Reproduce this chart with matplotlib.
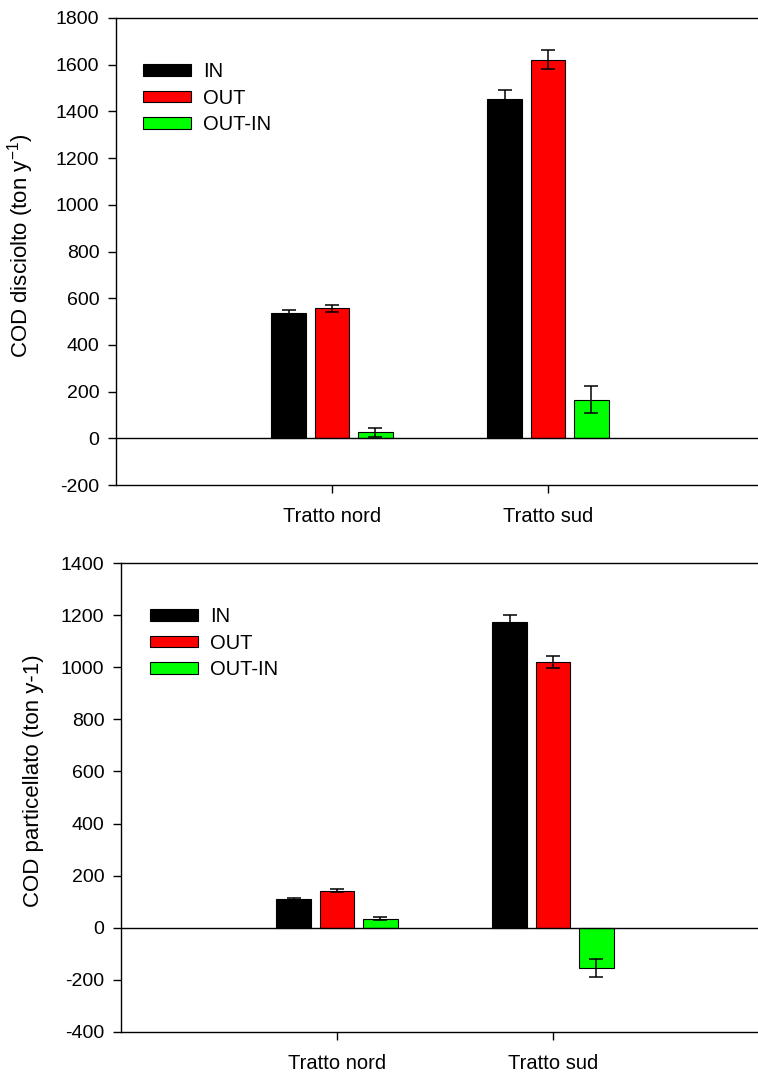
import numpy as np
import matplotlib
matplotlib.use("Agg")
import matplotlib.pyplot as plt

plt.rcParams["font.family"] = ["Liberation Sans", "DejaVu Sans"]
plt.rcParams["mathtext.fontset"] = "custom"
plt.rcParams["mathtext.rm"] = "Liberation Sans"
plt.rcParams["mathtext.default"] = "regular"
plt.rcParams["axes.unicode_minus"] = False

# load data: dissolved and particulate COD, by stretch
tratti = ["Tratto nord", "Tratto sud"]
serie = ["IN", "OUT", "OUT-IN"]
colori = ["#000000", "#ff0000", "#00ff00"]

disciolto_in = [535, 1455]
disciolto_out = [557, 1622]
disciolto_diff = [25, 166]
disciolto_in_err = [15, 37]
disciolto_out_err = [15, 41]
disciolto_diff_err = [20, 57]

particellato_in = [111, 1174]
particellato_out = [143, 1021]
particellato_diff = [34, -154]
particellato_in_err = [4, 25]
particellato_out_err = [5, 23]
particellato_diff_err = [6, 36]

W, H = 758, 1073
BAR_W = 0.162
STEP = 0.2
FS = 14.5


def bar_panel(ax, valori, errori, ylim, yticks, ylabel, label_xy, legend_pos):
    x = np.arange(1, len(tratti) + 1)
    for i, (nome, col) in enumerate(zip(serie, colori)):
        ax.bar(x + (i - 1) * STEP, valori[i], BAR_W, color=col,
               edgecolor="black", linewidth=0.8, label=nome, zorder=2)
        ax.errorbar(x + (i - 1) * STEP, valori[i], yerr=errori[i], fmt="none",
                    ecolor="black", elinewidth=1.1, capsize=5, capthick=1.1, zorder=3)
    ax.axhline(0, color="black", linewidth=1.0, zorder=4)
    ax.set_xlim(0, 3)
    ax.set_ylim(*ylim)
    ax.set_yticks(yticks)
    ax.set_xticks(x)
    ax.set_xticklabels(tratti)
    ax.set_ylabel(ylabel, fontsize=16)
    ax.yaxis.set_label_coords(*label_xy)
    ax.spines["right"].set_visible(False)
    for s in ["left", "bottom", "top"]:
        ax.spines[s].set_linewidth(1.0)
    ax.tick_params(axis="y", direction="out", length=6, width=1, labelsize=14, pad=6)
    ax.tick_params(axis="x", direction="out", length=6, width=1, labelsize=FS, pad=10)
    ax.legend(loc="upper left", bbox_to_anchor=legend_pos, frameon=False, fontsize=FS,
              handlelength=2.4, handleheight=0.5, handletextpad=0.6,
              labelspacing=0.38, borderpad=0, borderaxespad=0)


fig = plt.figure(figsize=(W / 100, H / 100), dpi=100)

ax1 = fig.add_axes([116 / W, 1 - 485 / H, 648 / W, 467 / H])
bar_panel(ax1,
          [disciolto_in, disciolto_out, disciolto_diff],
          [disciolto_in_err, disciolto_out_err, disciolto_diff_err],
          (-200, 1800), np.arange(-200, 1801, 200),
          r"COD disciolto (ton y$^{-1}$)", (-0.124, 0.513), (27 / 648, 1 - 44 / 467))

ax2 = fig.add_axes([121 / W, 1 - 1032 / H, 648 / W, 469 / H])
bar_panel(ax2,
          [particellato_in, particellato_out, particellato_diff],
          [particellato_in_err, particellato_out_err, particellato_diff_err],
          (-400, 1400), np.arange(-400, 1401, 200),
          "COD particellato (ton y-1)", (-0.119, 0.536), (29 / 648, 1 - 44 / 469))

fig.savefig("out.png", dpi=100)
